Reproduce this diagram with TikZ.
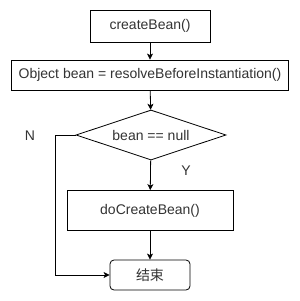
\documentclass[tikz,border=0pt]{standalone}
\usepackage{fontspec}
\setmainfont{Liberation Sans}
\newfontfamily\cjk{Noto Sans CJK SC}
\usetikzlibrary{arrows.meta,shapes.geometric}
\begin{document}
\begin{tikzpicture}[x=1pt,y=-1pt,
  box/.style={draw=black,line width=0.8pt,fill=white,font=\fontsize{14}{16}\selectfont,text=black!80,inner sep=0pt},
  arr/.style={line width=0.8pt,-{Stealth[length=6pt,width=6pt,inset=1.5pt]}},
  lbl/.style={font=\fontsize{14}{16}\selectfont,text=black!80}]
\useasboundingbox (0,0) rectangle (300,301);
\node[box,minimum width=120pt,minimum height=32pt] (a) at (150,26) {createBean()};
\node[box,minimum width=277pt,minimum height=30pt] (b) at (150,75) {Object bean = resolveBeforeInstantiation()};
\node[box,diamond,aspect=3,minimum width=150pt,minimum height=50pt,inner sep=0pt] (c) at (151,135) {bean == null};
\node[box,minimum width=166pt,minimum height=40pt] (d) at (150,210.5) {doCreateBean()};
\node[box,rounded corners=4pt,minimum width=80pt,minimum height=30pt] (e) at (150,275) {\cjk 结束};
\coordinate (t1) at (55,135);
\coordinate (t2) at (55,275);
\draw[arr] (a) -- (b);
\draw[arr] (b) -- (c);
\draw[arr] (c) -- (d);
\draw[arr] (d) -- (e);
\draw[arr] (c.west) -- (t1) -- (t2) -- (e.west);
\node[lbl] (n) at (30,136) {N};
\node[lbl] (y) at (186,171) {Y};
\end{tikzpicture}
\end{document}
